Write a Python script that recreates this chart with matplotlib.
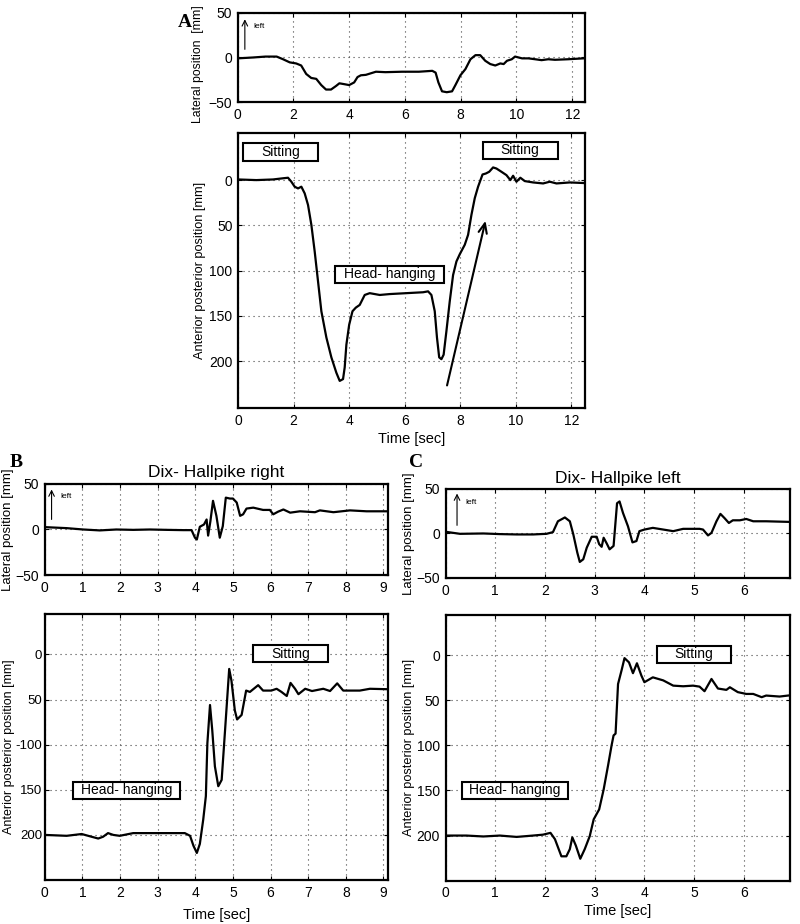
import numpy as np
import matplotlib as mpl
mpl.use('Agg')
import matplotlib.pyplot as plt
from matplotlib.patches import Rectangle

plt.rcParams['font.family'] = ['Liberation Sans', 'DejaVu Sans']

# ---- panel A (lateral, top) ----
a_lat_t = [0, 0.56, 1.0, 1.4, 1.63, 1.87, 2.1, 2.28, 2.46, 2.64, 2.82, 3.0, 3.17, 3.35, 3.53, 3.65,
           3.83, 4.0, 4.18, 4.3, 4.42, 4.6, 4.96, 5.3, 5.9, 6.5, 6.98, 7.1, 7.2, 7.33, 7.5, 7.69,
           7.81, 7.99, 8.17, 8.35, 8.53, 8.7, 8.88, 9.06, 9.24, 9.42, 9.54, 9.66, 9.83, 9.95,
           10.2, 10.43, 10.67, 10.9, 11.14, 11.38, 11.85, 12.4]
a_lat_y = [-1, 0, 1, 1, -2, -5.5, -6.7, -9, -18.5, -23, -24, -31, -36, -36, -32, -29,
           -30, -31, -28, -22, -20, -19.5, -16, -16.5, -16, -16, -15, -17, -28, -38, -39, -38,
           -31, -20, -13, -2, 2.6, 2.6, -3.7, -7.4, -9, -6.7, -7.4, -3.7, -2, 1,
           -1, -1, -2, -3, -2, -2.6, -2, -1]

# ---- panel A (anterior-posterior, bottom) ----
a_ap_t = [0, 0.66, 1.26, 1.62, 1.8, 1.92, 2.04, 2.16, 2.28, 2.4, 2.52, 2.64, 2.76, 2.88, 3.0,
          3.18, 3.36, 3.54, 3.66, 3.78, 3.84, 3.9, 4.0, 4.12, 4.24, 4.38, 4.56, 4.74, 5.1, 5.46,
          6.06, 6.66, 6.84, 6.96, 7.08, 7.16, 7.24, 7.32, 7.4, 7.5, 7.62, 7.74, 7.86, 7.98,
          8.16, 8.28, 8.4, 8.52, 8.64, 8.8, 8.92, 9.04, 9.18, 9.3, 9.48, 9.66, 9.8, 9.9,
          10.02, 10.16, 10.32, 10.62, 10.98, 11.22, 11.46, 11.94, 12.48]
a_ap_y = [-0.7, 0, -0.7, -2, -2.6, 1.8, 7.3, 9.2, 7.3, 14.7, 27.5, 49.5, 79, 112, 145,
          174, 196, 213, 222, 220, 207, 182, 160, 145, 141, 138, 127, 125, 127, 126,
          125, 124, 123, 127, 145, 174, 196, 198, 193, 167, 134, 105, 90, 82,
          71.5, 60.5, 38.5, 20, 7.3, -6.2, -7.3, -9.2, -14, -12.8, -9.2, -5.5, 0, -4.8,
          1.8, -2.6, 1.1, 2.6, 3.7, 1.8, 3.7, 2.6, 3.3]

# ---- panel B ----
b_lat_t = [0, 0.58, 1.02, 1.46, 1.9, 2.35, 2.79, 3.24, 3.68, 3.9, 3.99, 4.04, 4.12, 4.23, 4.3,
           4.34, 4.4, 4.47, 4.56, 4.65, 4.73, 4.81, 4.92, 5.0, 5.1, 5.19, 5.27, 5.36, 5.54,
           5.8, 5.98, 6.07, 6.2, 6.34, 6.52, 6.78, 7.18, 7.31, 7.67, 8.11, 8.55, 9.13]
b_lat_y = [2.6, 1.5, 0, -1, 0, -0.4, 0, -0.4, -0.7, -0.7, -9, -11, 3, 5.5, 11,
           -6.7, 9, 31.5, 15, -9, 3.7, 35, 34, 34, 29.6, 15, 16.7, 23, 24,
           21.5, 21.5, 16.7, 19.6, 22, 18.5, 20, 19, 21, 19, 21, 20, 20]

b_ap_t = [0, 0.58, 0.98, 1.24, 1.42, 1.55, 1.68, 1.82, 1.99, 2.35, 2.79, 3.24, 3.72, 3.86,
          3.95, 4.04, 4.12, 4.21, 4.28, 4.32, 4.39, 4.45, 4.52, 4.61, 4.7, 4.79, 4.9, 4.96,
          5.05, 5.11, 5.23, 5.35, 5.45, 5.67, 5.8, 6.02, 6.16, 6.29, 6.43, 6.53, 6.65, 6.74,
          6.92, 7.1, 7.4, 7.58, 7.77, 7.93, 8.2, 8.37, 8.64, 9.13]
b_ap_y = [200, 201, 199, 202, 204, 202, 198, 200, 201, 198, 198, 198, 198, 201,
          212, 220, 210, 183, 157, 98.5, 56, 84, 124, 146, 139, 84, 16, 29,
          62, 72, 67, 40, 41.5, 34, 40, 40, 38, 41.5, 46, 31.5, 38, 44,
          38, 40.5, 38, 40.5, 32, 40, 40, 40, 38, 38.5]

# ---- panel C ----
c_lat_t = [0, 0.29, 0.76, 1.09, 1.43, 1.76, 2.03, 2.16, 2.26, 2.4, 2.5, 2.57, 2.65, 2.7, 2.77,
           2.84, 2.94, 3.04, 3.09, 3.14, 3.18, 3.24, 3.3, 3.38, 3.45, 3.5, 3.57, 3.67, 3.76,
           3.84, 3.9, 4.0, 4.17, 4.38, 4.58, 4.78, 5.11, 5.18, 5.28, 5.35, 5.45, 5.53, 5.61,
           5.7, 5.78, 5.92, 6.05, 6.19, 6.45, 6.92]
c_lat_y = [1.9, -0.4, 0, -0.7, -1.1, -1.1, -0.4, 1.5, 13.7, 18, 13.7, -1.1, -21.5, -32, -29,
           -16, -3.7, -3.7, -12, -15, -4.8, -11, -17.8, -14, 34, 36, 23, 8, -10,
           -8.5, 2.6, 4.4, 6.3, 4.4, 2.6, 5.2, 5.2, 4.4, -2.2, 0.7, 13.7, 22, 17.4,
           11.8, 14.8, 14.8, 16.3, 13.7, 13.7, 13]

c_ap_t = [0, 0.42, 0.76, 1.09, 1.43, 1.76, 1.96, 2.11, 2.2, 2.33, 2.43, 2.5, 2.55, 2.62, 2.71,
          2.8, 2.9, 2.98, 3.09, 3.18, 3.27, 3.34, 3.38, 3.42, 3.47, 3.54, 3.6, 3.69, 3.77,
          3.85, 3.94, 4.0, 4.17, 4.38, 4.58, 4.78, 4.98, 5.11, 5.21, 5.35, 5.48, 5.65, 5.72,
          5.88, 6.05, 6.19, 6.36, 6.45, 6.72, 6.89]
c_ap_y = [200, 200, 201, 200, 201.5, 200, 199, 197, 204, 223, 223, 215, 202, 211, 225.7,
          215, 200.7, 182, 171, 149, 122, 100, 89, 87, 32, 17, 3.3, 8, 20,
          9, 22.7, 30, 24.6, 28, 33.8, 34.5, 33.8, 34.9, 40, 26.4, 37, 38.5, 35.6,
          41, 43, 43, 46.6, 44.8, 45.9, 44.8]


def style(ax):
    ax.grid(True, linestyle=(0, (1, 3.5)), color='#444444', linewidth=0.8)
    ax.tick_params(direction='in', length=3, labelsize=10, top=True, right=True, pad=4)
    for s in ax.spines.values():
        s.set_linewidth(1.6)


def label_box(ax, x0, x1, yc, h, txt):
    ax.add_patch(Rectangle((x0, yc - h / 2), x1 - x0, h, facecolor='white',
                           edgecolor='black', linewidth=1.5, zorder=4))
    ax.text((x0 + x1) / 2, yc, txt, ha='center', va='center', fontsize=10, zorder=5)


def left_arrow(ax, x, y0, y1, tx, ty):
    ax.annotate('', xy=(x, y1), xytext=(x, y0),
                arrowprops=dict(arrowstyle='->', lw=0.8, color='black'))
    ax.text(tx, ty, 'left', fontsize=6, va='center', ha='left')


fig = plt.figure(figsize=(8, 9.24), dpi=100)

# A top
ax = fig.add_axes([0.297, 0.8896, 0.434, 0.0964])
ax.plot(a_lat_t, a_lat_y, color='black', lw=1.6)
ax.set_xlim(0, 12.45)
ax.set_ylim(-50, 50)
ax.set_xticks(range(0, 13, 2))
ax.set_yticks([-50, 0, 50])
ax.set_ylabel('Lateral position  [mm]', fontsize=8.8)
ax.yaxis.set_label_coords(-0.098, 0.43)
left_arrow(ax, 0.26, 6, 46, 0.55, 35)
style(ax)
fig.text(0.222, 0.985, 'A', fontsize=14, fontweight='bold', family='Liberation Serif', va='top')

# A bottom
ax = fig.add_axes([0.2975, 0.5584, 0.4335, 0.2976])
ax.plot(a_ap_t, a_ap_y, color='black', lw=1.6)
ax.set_xlim(0, 12.48)
ax.set_ylim(252, -52)
ax.set_xticks(range(0, 13, 2))
ax.set_yticks([0, 50, 100, 150, 200])
ax.set_ylabel('Anterior posterior position [mm]', fontsize=9.2, labelpad=2)
ax.set_xlabel('Time [sec]', fontsize=10.5, labelpad=3)
label_box(ax, 0.18, 2.88, -31, 19, 'Sitting')
label_box(ax, 8.8, 11.5, -33, 19, 'Sitting')
label_box(ax, 3.5, 7.4, 104, 19, 'Head- hanging')
ax.annotate('', xy=(8.93, 42), xytext=(7.5, 230),
            arrowprops=dict(arrowstyle='->,head_length=0.7,head_width=0.3', lw=1.5, color='black'))
style(ax)

# B top
ax = fig.add_axes([0.056, 0.3777, 0.429, 0.0985])
ax.plot(b_lat_t, b_lat_y, color='black', lw=1.6)
ax.set_xlim(0, 9.12)
ax.set_ylim(-50, 50)
ax.set_xticks(range(0, 10))
ax.set_yticks([-50, 0, 50])
ax.set_ylabel('Lateral position [mm]', fontsize=9.5, labelpad=1)
ax.set_title('Dix- Hallpike right', fontsize=12.5, pad=5)
left_arrow(ax, 0.18, 8, 47, 0.42, 36)
style(ax)
fig.text(0.012, 0.509, 'B', fontsize=14, fontweight='bold', family='Liberation Serif', va='top')

# B bottom
ax = fig.add_axes([0.056, 0.0476, 0.429, 0.288])
ax.plot(b_ap_t, b_ap_y, color='black', lw=1.6)
ax.set_xlim(0, 9.12)
ax.set_ylim(250, -45)
ax.set_xticks(range(0, 10))
ax.set_yticks([0, 50, 100, 150, 200])
ax.set_yticklabels(['0', '50', '-100', '150', '200'])
ax.set_ylabel('Anterior posterior position [mm]', fontsize=9.0)
ax.set_xlabel('Time [sec]', fontsize=10.5, labelpad=6)
label_box(ax, 5.53, 7.52, -1, 19, 'Sitting')
label_box(ax, 0.74, 3.6, 150.7, 19, 'Head- hanging')
style(ax)
ax.tick_params(axis='y', labelsize=9.5, pad=2)
ax.yaxis.set_label_coords(-0.088, 0.5)

# C top
ax = fig.add_axes([0.557, 0.3745, 0.4305, 0.0963])
ax.plot(c_lat_t, c_lat_y, color='black', lw=1.6)
ax.set_xlim(0, 6.93)
ax.set_ylim(-50, 50)
ax.set_xticks(range(0, 7))
ax.set_yticks([-50, 0, 50])
ax.set_ylabel('Lateral position [mm]', fontsize=9.5, labelpad=1)
ax.set_title('Dix- Hallpike left', fontsize=12.5, pad=4)
left_arrow(ax, 0.23, 6, 48, 0.39, 35)
style(ax)
fig.text(0.511, 0.509, 'C', fontsize=14, fontweight='bold', family='Liberation Serif', va='top')

# C bottom
ax = fig.add_axes([0.557, 0.0469, 0.4305, 0.288])
ax.plot(c_ap_t, c_ap_y, color='black', lw=1.6)
ax.set_xlim(0, 6.93)
ax.set_ylim(250, -45)
ax.set_xticks(range(0, 7))
ax.set_yticks([0, 50, 100, 150, 200])
ax.set_ylabel('Anterior posterior position [mm]', fontsize=9.2, labelpad=1)
ax.set_xlabel('Time [sec]', fontsize=10.5, labelpad=3)
label_box(ax, 4.25, 5.74, -1, 19, 'Sitting')
label_box(ax, 0.33, 2.46, 150, 19, 'Head- hanging')
style(ax)

fig.savefig('out.png', dpi=100)
plt.close()
